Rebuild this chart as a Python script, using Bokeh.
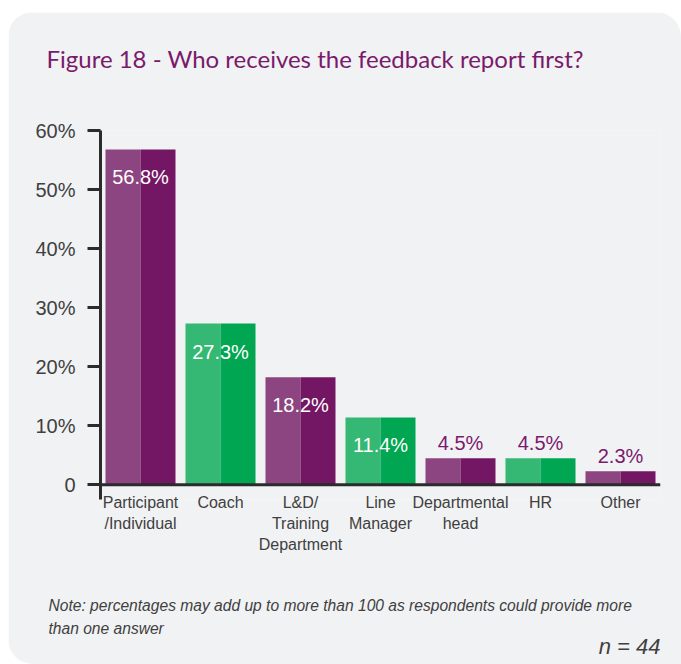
from bokeh.plotting import figure
from bokeh.models import FactorRange, ColumnDataSource, Span, Title, FixedTicker
from bokeh.transform import dodge
from bokeh.core.properties import value
from bokeh.embed import file_html
from bokeh.resources import INLINE

# ---- data ----
categories = ["Participant\n/Individual", "Coach", "L&D/\nTraining\nDepartment",
              "Line\nManager", "Departmental\nhead", "HR", "Other"]
percentages = [56.8, 27.3, 18.2, 11.4, 4.5, 4.5, 2.3]
value_labels = ["56.8%", "27.3%", "18.2%", "11.4%", "4.5%", "4.5%", "2.3%"]
bar_series = ["purple", "green", "purple", "green", "purple", "green", "purple"]
y_ticks = [0, 10, 20, 30, 40, 50, 60]
y_tick_labels = ["0", "10%", "20%", "30%", "40%", "50%", "60%"]
title_text = "Figure 18 - Who receives the feedback report first?"
note_lines = ["Note: percentages may add up to more than 100 as respondents could provide more",
              "than one answer"]
n_text = "n = 44"

# ---- styles ----
LIGHT = {"purple": "#8c4580", "green": "#34b873"}
DARK = {"purple": "#731663", "green": "#00a651"}
BG = "#f1f2f4"
AXIS = "#2b2b2b"
TXT = "#404040"
TITLE_C = "#7a1a6c"
FONT = "Liberation Sans"

src = ColumnDataSource(dict(
    cat=categories, val=percentages, lab=value_labels,
    light=[LIGHT[s] for s in bar_series],
    dark=[DARK[s] for s in bar_series],
))

inside_idx = [i for i, v in enumerate(percentages) if v >= 10]
outside_idx = [i for i, v in enumerate(percentages) if v < 10]
src_in = ColumnDataSource(dict(cat=[categories[i] for i in inside_idx],
                               val=[percentages[i] for i in inside_idx],
                               lab=[value_labels[i] for i in inside_idx]))
src_out = ColumnDataSource(dict(cat=[categories[i] for i in outside_idx],
                                val=[percentages[i] for i in outside_idx],
                                lab=[value_labels[i] for i in outside_idx]))

W, H = 673, 652
p = figure(width=W, height=H, output_backend="svg", toolbar_location=None,
           x_range=FactorRange(*categories, range_padding=0),
           y_range=(-2.5, 60),
           min_border_left=92, min_border_right=21, min_border_top=118,
           min_border_bottom=165,
           styles={"border-radius": "25px 25px 0 25px", "overflow": "hidden",
                   "margin-left": "8px", "margin-top": "12px"})
p.border_fill_color = BG
p.background_fill_color = BG
p.outline_line_color = None
p.grid.visible = False

bw = 0.4375
p.vbar(x=dodge("cat", -bw / 2, range=p.x_range), top="val", bottom=0, width=bw,
       fill_color="light", line_color=None, source=src)
p.vbar(x=dodge("cat", bw / 2, range=p.x_range), top="val", bottom=0, width=bw,
       fill_color="dark", line_color=None, source=src)

p.add_layout(Span(location=0, dimension="width", line_color=AXIS, line_width=3))

p.text(x="cat", y="val", text="lab", source=src_in, text_color="white",
       text_font=value(FONT), text_font_size="20px", text_align="center",
       text_baseline="middle", y_offset=28)
p.text(x="cat", y="val", text="lab", source=src_out, text_color=TITLE_C,
       text_font=value(FONT), text_font_size="20px", text_align="center",
       text_baseline="middle", y_offset=-15)

# y axis
ya = p.yaxis[0]
ya.ticker = FixedTicker(ticks=y_ticks)
ya.major_label_overrides = {t: l for t, l in zip(y_ticks, y_tick_labels)}
ya.axis_line_color = AXIS
ya.axis_line_width = 3
ya.major_tick_line_color = AXIS
ya.major_tick_line_width = 3
ya.major_tick_out = 13
ya.major_tick_in = 0
ya.minor_tick_line_color = None
ya.major_label_standoff = 12
ya.major_label_text_font = FONT
ya.major_label_text_font_size = "20px"
ya.major_label_text_color = TXT

# x axis
xa = p.xaxis[0]
xa.axis_line_color = None
xa.major_tick_line_color = None
xa.minor_tick_line_color = None
xa.major_label_standoff = -12
xa.major_label_text_font = FONT
xa.major_label_text_font_size = "16px"
xa.major_label_text_color = TXT
xa.major_label_text_line_height = 1.25

# title: empty default title, a spacer next to the frame, then the real title
p.title.text = ""
p.add_layout(Title(text=" ", text_font_size="1px", standoff=54.6), "above")
p.add_layout(Title(text=title_text, align="left", offset=-54, standoff=0,
                   text_font="Lato", text_font_size="24px", text_font_style="normal",
                   text_color=TITLE_C), "above")

# notes below: spacer, note, n
p.add_layout(Title(text=" ", text_font_size="1px", standoff=37), "below")
p.add_layout(Title(text="\n".join(note_lines), align="left", offset=-52, standoff=0,
                   vertical_align="top",
                   text_font=FONT, text_font_size="15.6px", text_font_style="italic",
                   text_color=TXT, text_line_height=1.41), "below")
p.add_layout(Title(text=n_text, align="right", offset=0, standoff=-12,
                   vertical_align="top",
                   text_font=FONT, text_font_size="22px", text_font_style="italic",
                   text_color=TXT), "below")

open("out.html", "w").write(file_html(p, INLINE))
